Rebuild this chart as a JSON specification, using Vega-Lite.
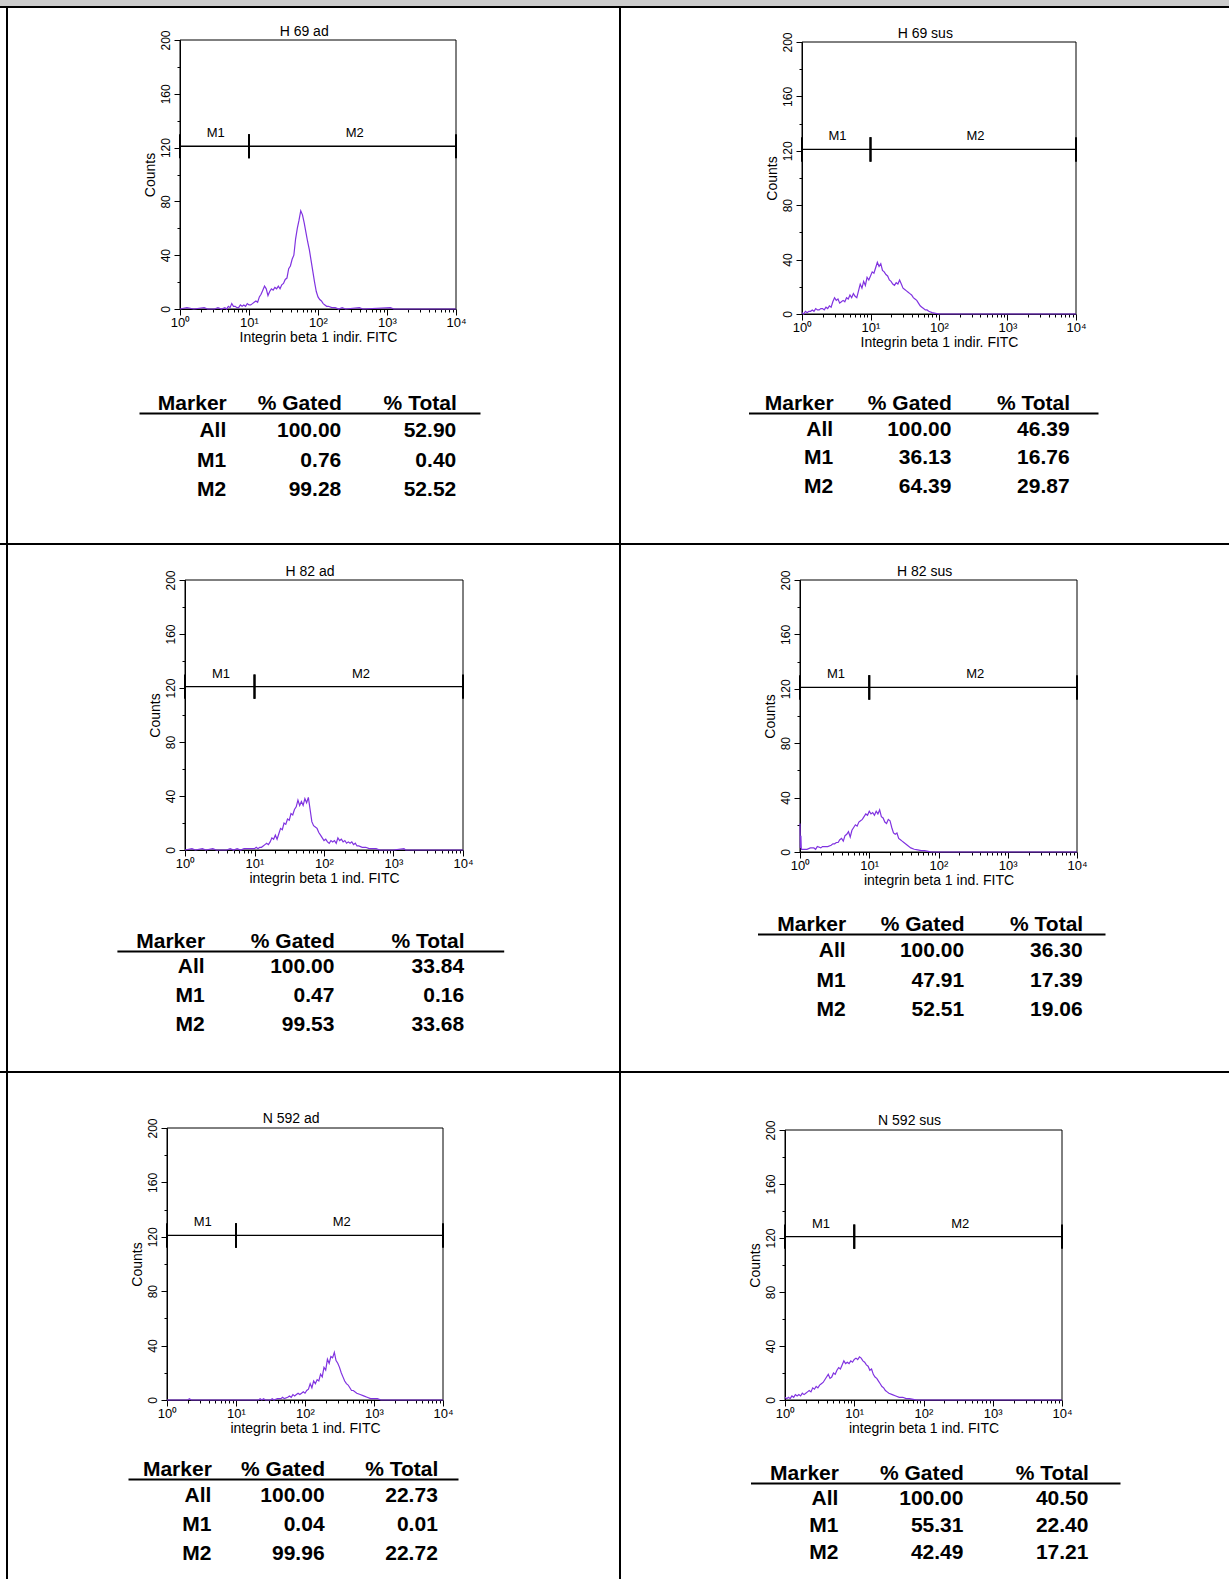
{
"$schema": "https://vega.github.io/schema/vega-lite/v6.json",
"padding": 0,
"background": "white",
"spacing": 0,
"bounds": "full",
"config": {
  "view": {"stroke": null},
  "font": "Liberation Sans",
  "concat": {"spacing": 0},
  "axis": {"grid": false, "domainColor": "black", "tickColor": "black", "labelColor": "black", "titleColor": "black", "labelFont": "Liberation Sans", "titleFont": "Liberation Sans", "titleFontWeight": "normal", "labelFlush": false, "labelOverlap": false, "domainWidth": 1, "tickWidth": 1},
  "text": {"font": "Liberation Sans", "color": "black"},
  "point": {"size": 0, "strokeWidth": 0, "opacity": 0}
},
"datasets": {
  "markers": [{"m":"M1","x1":1,"x2":10,"mid":3.3},{"m":"M2","x1":10,"x2":10000,"mid":340}],
  "h1": [{"x":1,"y":0},{"x":1.259,"y":1},{"x":1.585,"y":0},{"x":2.239,"y":1},{"x":2.512,"y":0},{"x":3.162,"y":0},{"x":3.548,"y":1},{"x":3.981,"y":0},{"x":4.467,"y":1},{"x":4.732,"y":0},{"x":5.012,"y":2},{"x":5.309,"y":1},{"x":5.623,"y":4},{"x":5.957,"y":2},{"x":6.31,"y":2},{"x":6.683,"y":1},{"x":7.079,"y":1},{"x":7.499,"y":3},{"x":7.943,"y":2},{"x":8.414,"y":3},{"x":8.913,"y":2},{"x":9.441,"y":4},{"x":10,"y":3},{"x":10.59,"y":3},{"x":11.22,"y":4},{"x":11.89,"y":5},{"x":12.59,"y":6},{"x":13.34,"y":5},{"x":14.13,"y":9},{"x":14.96,"y":11},{"x":15.85,"y":14},{"x":16.79,"y":17},{"x":17.78,"y":15},{"x":18.84,"y":10},{"x":19.95,"y":13},{"x":21.13,"y":15},{"x":22.39,"y":14},{"x":23.71,"y":16},{"x":25.12,"y":15},{"x":26.61,"y":17},{"x":28.18,"y":15},{"x":29.85,"y":18},{"x":31.62,"y":19},{"x":33.5,"y":22},{"x":35.48,"y":23},{"x":37.58,"y":30},{"x":39.81,"y":32},{"x":42.17,"y":37},{"x":44.67,"y":40},{"x":47.32,"y":52},{"x":50.12,"y":60},{"x":53.09,"y":66},{"x":56.23,"y":73},{"x":59.57,"y":70},{"x":63.1,"y":64},{"x":66.83,"y":57},{"x":70.79,"y":50},{"x":74.99,"y":44},{"x":79.43,"y":36},{"x":84.14,"y":28},{"x":89.13,"y":20},{"x":94.41,"y":13},{"x":100,"y":9},{"x":105.9,"y":7},{"x":112.2,"y":6},{"x":118.9,"y":4},{"x":125.9,"y":3},{"x":133.4,"y":2},{"x":141.3,"y":2},{"x":158.5,"y":1},{"x":177.8,"y":1},{"x":199.5,"y":0},{"x":223.9,"y":1},{"x":251.2,"y":0},{"x":398.1,"y":1},{"x":446.7,"y":0},{"x":1122,"y":1},{"x":1259,"y":0},{"x":10000,"y":0}],
  "h2": [{"x":1,"y":1},{"x":1.059,"y":0},{"x":1.122,"y":2},{"x":1.189,"y":1},{"x":1.259,"y":2},{"x":1.334,"y":2},{"x":1.413,"y":3},{"x":1.496,"y":2},{"x":1.585,"y":4},{"x":1.679,"y":3},{"x":1.778,"y":3},{"x":1.884,"y":4},{"x":1.995,"y":4},{"x":2.113,"y":3},{"x":2.239,"y":5},{"x":2.371,"y":4},{"x":2.512,"y":6},{"x":2.661,"y":5},{"x":2.818,"y":9},{"x":2.985,"y":12},{"x":3.162,"y":10},{"x":3.35,"y":11},{"x":3.548,"y":8},{"x":3.758,"y":9},{"x":3.981,"y":10},{"x":4.217,"y":9},{"x":4.467,"y":12},{"x":4.732,"y":11},{"x":5.012,"y":14},{"x":5.309,"y":12},{"x":5.623,"y":15},{"x":5.957,"y":13},{"x":6.31,"y":12},{"x":6.683,"y":17},{"x":7.079,"y":22},{"x":7.499,"y":19},{"x":7.943,"y":24},{"x":8.414,"y":21},{"x":8.913,"y":27},{"x":9.441,"y":25},{"x":10,"y":28},{"x":10.59,"y":31},{"x":11.22,"y":30},{"x":11.89,"y":34},{"x":12.59,"y":38},{"x":13.34,"y":35},{"x":14.13,"y":37},{"x":14.96,"y":32},{"x":15.85,"y":31},{"x":16.79,"y":29},{"x":17.78,"y":28},{"x":18.84,"y":25},{"x":19.95,"y":24},{"x":21.13,"y":22},{"x":22.39,"y":21},{"x":23.71,"y":23},{"x":25.12,"y":22},{"x":26.61,"y":25},{"x":28.18,"y":22},{"x":29.85,"y":19},{"x":31.62,"y":18},{"x":33.5,"y":17},{"x":35.48,"y":16},{"x":37.58,"y":15},{"x":39.81,"y":14},{"x":42.17,"y":12},{"x":44.67,"y":11},{"x":47.32,"y":10},{"x":50.12,"y":8},{"x":53.09,"y":6},{"x":56.23,"y":5},{"x":59.57,"y":4},{"x":63.1,"y":3},{"x":66.83,"y":3},{"x":70.79,"y":2},{"x":79.43,"y":1},{"x":89.13,"y":0.5},{"x":100,"y":0},{"x":10000,"y":0}],
  "h3": [{"x":1,"y":0},{"x":1.259,"y":1},{"x":1.413,"y":0},{"x":1.778,"y":1},{"x":1.995,"y":0},{"x":2.512,"y":1},{"x":2.818,"y":0},{"x":3.981,"y":0},{"x":4.467,"y":1},{"x":5.012,"y":0},{"x":5.623,"y":1},{"x":6.31,"y":0},{"x":7.079,"y":1},{"x":7.943,"y":1},{"x":8.913,"y":1},{"x":10,"y":1},{"x":10.59,"y":2},{"x":11.22,"y":1},{"x":11.89,"y":2},{"x":12.59,"y":2},{"x":13.34,"y":3},{"x":14.13,"y":4},{"x":14.96,"y":5},{"x":15.85,"y":4},{"x":16.79,"y":6},{"x":17.78,"y":9},{"x":18.84,"y":8},{"x":19.95,"y":11},{"x":21.13,"y":8},{"x":22.39,"y":12},{"x":23.71,"y":16},{"x":25.12,"y":15},{"x":26.61,"y":20},{"x":28.18,"y":19},{"x":29.85,"y":23},{"x":31.62,"y":22},{"x":33.5,"y":27},{"x":35.48,"y":26},{"x":37.58,"y":30},{"x":39.81,"y":32},{"x":42.17,"y":37},{"x":44.67,"y":33},{"x":47.32,"y":36},{"x":50.12,"y":33},{"x":53.09,"y":38},{"x":56.23,"y":35},{"x":59.57,"y":39},{"x":63.1,"y":30},{"x":66.83,"y":21},{"x":70.79,"y":18},{"x":74.99,"y":17},{"x":79.43,"y":16},{"x":84.14,"y":13},{"x":89.13,"y":11},{"x":94.41,"y":9},{"x":100,"y":7},{"x":105.9,"y":8},{"x":112.2,"y":6},{"x":118.9,"y":5},{"x":125.9,"y":7},{"x":133.4,"y":6},{"x":141.3,"y":7},{"x":150,"y":5},{"x":158.5,"y":9},{"x":168,"y":7},{"x":177.8,"y":8},{"x":188.4,"y":6},{"x":199.5,"y":7},{"x":211.3,"y":5},{"x":223.9,"y":6},{"x":237.1,"y":5},{"x":251.2,"y":6},{"x":266.1,"y":4},{"x":281.8,"y":5},{"x":298.5,"y":3},{"x":316.2,"y":3},{"x":354.8,"y":2},{"x":398.1,"y":2},{"x":446.7,"y":1},{"x":501.2,"y":1},{"x":562.3,"y":1},{"x":631,"y":0},{"x":1000,"y":0},{"x":1413,"y":1},{"x":1500,"y":0},{"x":10000,"y":0}],
  "h4": [{"x":1,"y":21},{"x":1.01,"y":3},{"x":1.03,"y":12},{"x":1.045,"y":2},{"x":1.122,"y":2},{"x":1.259,"y":2},{"x":1.413,"y":3},{"x":1.585,"y":3},{"x":1.679,"y":2},{"x":1.778,"y":4},{"x":1.995,"y":3},{"x":2.113,"y":4},{"x":2.239,"y":4},{"x":2.512,"y":4},{"x":2.818,"y":5},{"x":2.985,"y":6},{"x":3.162,"y":6},{"x":3.35,"y":7},{"x":3.548,"y":7},{"x":3.758,"y":9},{"x":3.981,"y":10},{"x":4.217,"y":8},{"x":4.467,"y":12},{"x":4.732,"y":13},{"x":5.012,"y":15},{"x":5.309,"y":11},{"x":5.623,"y":16},{"x":5.957,"y":18},{"x":6.31,"y":20},{"x":6.683,"y":19},{"x":7.079,"y":22},{"x":7.499,"y":23},{"x":7.943,"y":24},{"x":8.414,"y":26},{"x":8.913,"y":28},{"x":9.441,"y":27},{"x":10,"y":30},{"x":10.59,"y":28},{"x":11.22,"y":29},{"x":11.89,"y":27},{"x":12.59,"y":30},{"x":13.34,"y":28},{"x":14.13,"y":31},{"x":14.96,"y":26},{"x":15.85,"y":25},{"x":16.79,"y":22},{"x":17.78,"y":21},{"x":18.84,"y":24},{"x":19.95,"y":23},{"x":21.13,"y":18},{"x":22.39,"y":14},{"x":23.71,"y":13},{"x":25.12,"y":14},{"x":26.61,"y":10},{"x":28.18,"y":9},{"x":29.85,"y":8},{"x":31.62,"y":7},{"x":35.48,"y":5},{"x":39.81,"y":3},{"x":44.67,"y":2},{"x":50.12,"y":1.5},{"x":56.23,"y":1},{"x":63.1,"y":1},{"x":70.79,"y":0.5},{"x":79.43,"y":0},{"x":10000,"y":0}],
  "h5": [{"x":1,"y":0},{"x":1.995,"y":0},{"x":2.113,"y":1},{"x":2.239,"y":0},{"x":21.13,"y":0},{"x":22.39,"y":1},{"x":23.71,"y":0},{"x":25.12,"y":1},{"x":26.61,"y":0},{"x":31.62,"y":0},{"x":33.5,"y":1},{"x":35.48,"y":0},{"x":39.81,"y":1},{"x":44.67,"y":1},{"x":47.32,"y":2},{"x":50.12,"y":1},{"x":56.23,"y":2},{"x":59.57,"y":3},{"x":63.1,"y":2},{"x":66.83,"y":4},{"x":70.79,"y":3},{"x":74.99,"y":4},{"x":79.43,"y":5},{"x":84.14,"y":4},{"x":89.13,"y":5},{"x":94.41,"y":6},{"x":100,"y":5},{"x":105.9,"y":7},{"x":112.2,"y":8},{"x":118.9,"y":12},{"x":125.9,"y":9},{"x":133.4,"y":14},{"x":141.3,"y":12},{"x":150,"y":15},{"x":158.5,"y":14},{"x":168,"y":19},{"x":177.8,"y":17},{"x":188.4,"y":24},{"x":199.5,"y":22},{"x":211.3,"y":30},{"x":223.9,"y":27},{"x":237.1,"y":32},{"x":251.2,"y":31},{"x":266.1,"y":35},{"x":281.8,"y":29},{"x":298.5,"y":27},{"x":316.2,"y":24},{"x":335,"y":20},{"x":354.8,"y":17},{"x":376,"y":14},{"x":398.1,"y":12},{"x":421.7,"y":11},{"x":446.7,"y":9},{"x":473,"y":7},{"x":501.2,"y":7},{"x":562.3,"y":5},{"x":631,"y":4},{"x":707.9,"y":3},{"x":794.3,"y":2},{"x":891.3,"y":1},{"x":1000,"y":1},{"x":1122,"y":1},{"x":1259,"y":0},{"x":10000,"y":0}],
  "h6": [{"x":1,"y":2},{"x":1.059,"y":1},{"x":1.122,"y":2},{"x":1.189,"y":1},{"x":1.259,"y":3},{"x":1.334,"y":2},{"x":1.413,"y":4},{"x":1.496,"y":3},{"x":1.585,"y":4},{"x":1.679,"y":3},{"x":1.778,"y":5},{"x":1.884,"y":4},{"x":1.995,"y":5},{"x":2.113,"y":6},{"x":2.239,"y":7},{"x":2.371,"y":6},{"x":2.512,"y":9},{"x":2.661,"y":8},{"x":2.818,"y":10},{"x":2.985,"y":9},{"x":3.162,"y":11},{"x":3.35,"y":12},{"x":3.548,"y":13},{"x":3.758,"y":15},{"x":3.981,"y":17},{"x":4.217,"y":19},{"x":4.467,"y":16},{"x":4.732,"y":17},{"x":5.012,"y":20},{"x":5.309,"y":19},{"x":5.623,"y":22},{"x":5.957,"y":24},{"x":6.31,"y":23},{"x":6.683,"y":26},{"x":7.079,"y":29},{"x":7.499,"y":27},{"x":7.943,"y":28},{"x":8.414,"y":27},{"x":8.913,"y":29},{"x":9.441,"y":28},{"x":10,"y":30},{"x":10.59,"y":31},{"x":11.22,"y":30},{"x":11.89,"y":32},{"x":12.59,"y":31},{"x":13.34,"y":29},{"x":14.13,"y":28},{"x":14.96,"y":26},{"x":15.85,"y":25},{"x":16.79,"y":22},{"x":17.78,"y":23},{"x":18.84,"y":19},{"x":19.95,"y":17},{"x":21.13,"y":16},{"x":22.39,"y":14},{"x":23.71,"y":12},{"x":25.12,"y":10},{"x":26.61,"y":9},{"x":28.18,"y":7},{"x":29.85,"y":6},{"x":31.62,"y":5},{"x":35.48,"y":4},{"x":39.81,"y":3},{"x":44.67,"y":2},{"x":50.12,"y":2},{"x":56.23,"y":1},{"x":63.1,"y":1},{"x":70.79,"y":0.5},{"x":79.43,"y":0},{"x":10000,"y":0}],
  "t1": [{"row":"All","col":"Marker","v":"All"},{"row":"All","col":"% Gated","v":"100.00"},{"row":"All","col":"% Total","v":"52.90"},{"row":"M1","col":"Marker","v":"M1"},{"row":"M1","col":"% Gated","v":"0.76"},{"row":"M1","col":"% Total","v":"0.40"},{"row":"M2","col":"Marker","v":"M2"},{"row":"M2","col":"% Gated","v":"99.28"},{"row":"M2","col":"% Total","v":"52.52"}],
  "t2": [{"row":"All","col":"Marker","v":"All"},{"row":"All","col":"% Gated","v":"100.00"},{"row":"All","col":"% Total","v":"46.39"},{"row":"M1","col":"Marker","v":"M1"},{"row":"M1","col":"% Gated","v":"36.13"},{"row":"M1","col":"% Total","v":"16.76"},{"row":"M2","col":"Marker","v":"M2"},{"row":"M2","col":"% Gated","v":"64.39"},{"row":"M2","col":"% Total","v":"29.87"}],
  "t3": [{"row":"All","col":"Marker","v":"All"},{"row":"All","col":"% Gated","v":"100.00"},{"row":"All","col":"% Total","v":"33.84"},{"row":"M1","col":"Marker","v":"M1"},{"row":"M1","col":"% Gated","v":"0.47"},{"row":"M1","col":"% Total","v":"0.16"},{"row":"M2","col":"Marker","v":"M2"},{"row":"M2","col":"% Gated","v":"99.53"},{"row":"M2","col":"% Total","v":"33.68"}],
  "t4": [{"row":"All","col":"Marker","v":"All"},{"row":"All","col":"% Gated","v":"100.00"},{"row":"All","col":"% Total","v":"36.30"},{"row":"M1","col":"Marker","v":"M1"},{"row":"M1","col":"% Gated","v":"47.91"},{"row":"M1","col":"% Total","v":"17.39"},{"row":"M2","col":"Marker","v":"M2"},{"row":"M2","col":"% Gated","v":"52.51"},{"row":"M2","col":"% Total","v":"19.06"}],
  "t5": [{"row":"All","col":"Marker","v":"All"},{"row":"All","col":"% Gated","v":"100.00"},{"row":"All","col":"% Total","v":"22.73"},{"row":"M1","col":"Marker","v":"M1"},{"row":"M1","col":"% Gated","v":"0.04"},{"row":"M1","col":"% Total","v":"0.01"},{"row":"M2","col":"Marker","v":"M2"},{"row":"M2","col":"% Gated","v":"99.96"},{"row":"M2","col":"% Total","v":"22.72"}],
  "t6": [{"row":"All","col":"Marker","v":"All"},{"row":"All","col":"% Gated","v":"100.00"},{"row":"All","col":"% Total","v":"40.50"},{"row":"M1","col":"Marker","v":"M1"},{"row":"M1","col":"% Gated","v":"55.31"},{"row":"M1","col":"% Total","v":"22.40"},{"row":"M2","col":"Marker","v":"M2"},{"row":"M2","col":"% Gated","v":"42.49"},{"row":"M2","col":"% Total","v":"17.21"}]
},
"vconcat": [
  {"width":1229,"height":6,"data":{"values":[{}]},"mark":{"type":"point","opacity":0,"size":0},"view":{"fill":"#cccccc","stroke":null}},
  {"width":1229,"height":2,"data":{"values":[{}]},"mark":{"type":"point","opacity":0,"size":0},"view":{"fill":"black","stroke":null}},
  {"spacing":0,"bounds":"flush","hconcat":[
    {"width":6,"height":535,"data":{"values":[{}]},"mark":{"type":"point","opacity":0,"size":0},"view":{"fill":"white","stroke":null}},
    {"width":2,"height":535,"data":{"values":[{}]},"mark":{"type":"point","opacity":0,"size":0},"view":{"fill":"black","stroke":null}},
    {"width":611,"height":535,"resolve":{"scale":{"x":"independent","y":"independent"},"axis":{"x":"independent","y":"independent"}},
     "layer":[
      {"layer":[
        {"data":{"values":[{}]},"mark":{"type":"rect","filled":false,"color":"black","strokeWidth":1},"encoding":{"x":{"datum":1,"type":"quantitative"},"x2":{"datum":10000},"y":{"datum":0,"type":"quantitative"},"y2":{"datum":200}}},
        {"data":{"name":"h1"},"mark":{"type":"line","color":"#8033e0","strokeWidth":1.2},
         "encoding":{
          "x":{"field":"x","type":"quantitative","scale":{"type":"log","domain":[1,10000],"range":[172,448],"nice":false},
               "axis":{"orient":"bottom","offset":-234,"values":[1,2,3,4,5,6,7,8,9,10,20,30,40,50,60,70,80,90,100,200,300,400,500,600,700,800,900,1000,2000,3000,4000,5000,6000,7000,8000,9000,10000],"labelExpr":"datum.value===1?'10⁰':datum.value===10?'10¹':datum.value===100?'10²':datum.value===1000?'10³':datum.value===10000?'10⁴':''","tickSize":{"condition":{"test":"datum.value===1||datum.value===10||datum.value===100||datum.value===1000||datum.value===10000","value":6},"value":3},"labelFontSize":13,"labelPadding":1,"title":"Integrin beta 1 indir. FITC","titleFontSize":14,"titlePadding":1}},
          "y":{"field":"y","type":"quantitative","scale":{"domain":[0,200],"range":[301,32],"nice":false},
               "axis":{"orient":"left","offset":-172,"values":[0,5,10,15,20,25,30,35,40,45,50,55,60,65,70,75,80,85,90,95,100,105,110,115,120,125,130,135,140,145,150,155,160,165,170,175,180,185,190,195,200],"labelExpr":"datum.value % 40 === 0 ? datum.label : ''","tickSize":{"condition":{"test":"datum.value % 40 === 0","value":6},"value":3},"labelAngle":270,"labelAlign":"center","labelBaseline":"bottom","labelFontSize":12,"labelPadding":2,"title":"Counts","titleFontSize":14,"titlePadding":2}}}},
        {"data":{"name":"markers"},"mark":{"type":"rule","color":"black","strokeWidth":1.3},"encoding":{"x":{"field":"x1","type":"quantitative"},"x2":{"field":"x2"},"y":{"datum":121,"type":"quantitative"}}},
        {"data":{"name":"markers"},"mark":{"type":"rule","color":"black","strokeWidth":2},"encoding":{"x":{"field":"x1","type":"quantitative"},"y":{"datum":112,"type":"quantitative"},"y2":{"datum":130}}},
        {"data":{"name":"markers"},"mark":{"type":"rule","color":"black","strokeWidth":2},"encoding":{"x":{"field":"x2","type":"quantitative"},"y":{"datum":112,"type":"quantitative"},"y2":{"datum":130}}},
        {"data":{"name":"markers"},"mark":{"type":"text","fontSize":13,"baseline":"alphabetic","dy":-9},"encoding":{"x":{"field":"mid","type":"quantitative"},"y":{"datum":121,"type":"quantitative"},"text":{"field":"m"}}},
        {"data":{"values":[{"t":"H 69 ad"}]},"mark":{"type":"text","fontSize":14,"baseline":"alphabetic","dy":-4},"encoding":{"x":{"datum":63,"type":"quantitative"},"y":{"datum":200,"type":"quantitative"},"text":{"field":"t"}}}
      ]},
      {"data":{"name":"t1"},"mark":{"type":"text","align":"right","baseline":"middle","fontSize":21,"fontWeight":"bold"},
       "encoding":{
        "x":{"field":"col","type":"nominal","scale":{"type":"point","domain":["Marker","% Gated","% Total"],"range":[131,472],"padding":0.4826,"align":0.786,"round":false},
             "axis":{"orient":"top","offset":-405,"title":null,"ticks":false,"tickSize":0,"labelAngle":0,"labelAlign":"right","labelBaseline":"alphabetic","labelPadding":3.5,"labelFontSize":21,"labelFontWeight":"bold","domainWidth":2}},
        "y":{"field":"row","type":"nominal","scale":{"type":"point","domain":["All","M1","M2"],"range":[423,482],"padding":0,"round":false},"axis":null},
        "text":{"field":"v"}}}
     ]},
    {"width":2,"height":535,"data":{"values":[{}]},"mark":{"type":"point","opacity":0,"size":0},"view":{"fill":"black","stroke":null}},
    {"width":608,"height":535,"resolve":{"scale":{"x":"independent","y":"independent"},"axis":{"x":"independent","y":"independent"}},
     "layer":[
      {"layer":[
        {"data":{"values":[{}]},"mark":{"type":"rect","filled":false,"color":"black","strokeWidth":1},"encoding":{"x":{"datum":1,"type":"quantitative"},"x2":{"datum":10000},"y":{"datum":0,"type":"quantitative"},"y2":{"datum":200}}},
        {"data":{"name":"h2"},"mark":{"type":"line","color":"#8033e0","strokeWidth":1.2},
         "encoding":{
          "x":{"field":"x","type":"quantitative","scale":{"type":"log","domain":[1,10000],"range":[181,455],"nice":false},
               "axis":{"orient":"bottom","offset":-229,"values":[1,2,3,4,5,6,7,8,9,10,20,30,40,50,60,70,80,90,100,200,300,400,500,600,700,800,900,1000,2000,3000,4000,5000,6000,7000,8000,9000,10000],"labelExpr":"datum.value===1?'10⁰':datum.value===10?'10¹':datum.value===100?'10²':datum.value===1000?'10³':datum.value===10000?'10⁴':''","tickSize":{"condition":{"test":"datum.value===1||datum.value===10||datum.value===100||datum.value===1000||datum.value===10000","value":6},"value":3},"labelFontSize":13,"labelPadding":1,"title":"Integrin beta 1 indir. FITC","titleFontSize":14,"titlePadding":1}},
          "y":{"field":"y","type":"quantitative","scale":{"domain":[0,200],"range":[306,34],"nice":false},
               "axis":{"orient":"left","offset":-181,"values":[0,5,10,15,20,25,30,35,40,45,50,55,60,65,70,75,80,85,90,95,100,105,110,115,120,125,130,135,140,145,150,155,160,165,170,175,180,185,190,195,200],"labelExpr":"datum.value % 40 === 0 ? datum.label : ''","tickSize":{"condition":{"test":"datum.value % 40 === 0","value":6},"value":3},"labelAngle":270,"labelAlign":"center","labelBaseline":"bottom","labelFontSize":12,"labelPadding":2,"title":"Counts","titleFontSize":14,"titlePadding":2}}}},
        {"data":{"name":"markers"},"mark":{"type":"rule","color":"black","strokeWidth":1.3},"encoding":{"x":{"field":"x1","type":"quantitative"},"x2":{"field":"x2"},"y":{"datum":121,"type":"quantitative"}}},
        {"data":{"name":"markers"},"mark":{"type":"rule","color":"black","strokeWidth":2},"encoding":{"x":{"field":"x1","type":"quantitative"},"y":{"datum":112,"type":"quantitative"},"y2":{"datum":130}}},
        {"data":{"name":"markers"},"mark":{"type":"rule","color":"black","strokeWidth":2},"encoding":{"x":{"field":"x2","type":"quantitative"},"y":{"datum":112,"type":"quantitative"},"y2":{"datum":130}}},
        {"data":{"name":"markers"},"mark":{"type":"text","fontSize":13,"baseline":"alphabetic","dy":-9},"encoding":{"x":{"field":"mid","type":"quantitative"},"y":{"datum":121,"type":"quantitative"},"text":{"field":"m"}}},
        {"data":{"values":[{"t":"H 69 sus"}]},"mark":{"type":"text","fontSize":14,"baseline":"alphabetic","dy":-4},"encoding":{"x":{"datum":63,"type":"quantitative"},"y":{"datum":200,"type":"quantitative"},"text":{"field":"t"}}}
      ]},
      {"data":{"name":"t2"},"mark":{"type":"text","align":"right","baseline":"middle","fontSize":21,"fontWeight":"bold"},
       "encoding":{
        "x":{"field":"col","type":"nominal","scale":{"type":"point","domain":["Marker","% Gated","% Total"],"range":[127.5,477],"padding":0.4778,"align":0.749,"round":false},
             "axis":{"orient":"top","offset":-405,"title":null,"ticks":false,"tickSize":0,"labelAngle":0,"labelAlign":"right","labelBaseline":"alphabetic","labelPadding":3.5,"labelFontSize":21,"labelFontWeight":"bold","domainWidth":2}},
        "y":{"field":"row","type":"nominal","scale":{"type":"point","domain":["All","M1","M2"],"range":[422,478.5],"padding":0,"round":false},"axis":null},
        "text":{"field":"v"}}}
     ]}
  ]},
  {"width":1229,"height":2,"data":{"values":[{}]},"mark":{"type":"point","opacity":0,"size":0},"view":{"fill":"black","stroke":null}},
  {"spacing":0,"bounds":"flush","hconcat":[
    {"width":6,"height":526,"data":{"values":[{}]},"mark":{"type":"point","opacity":0,"size":0},"view":{"fill":"white","stroke":null}},
    {"width":2,"height":526,"data":{"values":[{}]},"mark":{"type":"point","opacity":0,"size":0},"view":{"fill":"black","stroke":null}},
    {"width":611,"height":526,"resolve":{"scale":{"x":"independent","y":"independent"},"axis":{"x":"independent","y":"independent"}},
     "layer":[
      {"layer":[
        {"data":{"values":[{}]},"mark":{"type":"rect","filled":false,"color":"black","strokeWidth":1},"encoding":{"x":{"datum":1,"type":"quantitative"},"x2":{"datum":10000},"y":{"datum":0,"type":"quantitative"},"y2":{"datum":200}}},
        {"data":{"name":"h3"},"mark":{"type":"line","color":"#8033e0","strokeWidth":1.2},
         "encoding":{
          "x":{"field":"x","type":"quantitative","scale":{"type":"log","domain":[1,10000],"range":[177,455],"nice":false},
               "axis":{"orient":"bottom","offset":-221,"values":[1,2,3,4,5,6,7,8,9,10,20,30,40,50,60,70,80,90,100,200,300,400,500,600,700,800,900,1000,2000,3000,4000,5000,6000,7000,8000,9000,10000],"labelExpr":"datum.value===1?'10⁰':datum.value===10?'10¹':datum.value===100?'10²':datum.value===1000?'10³':datum.value===10000?'10⁴':''","tickSize":{"condition":{"test":"datum.value===1||datum.value===10||datum.value===100||datum.value===1000||datum.value===10000","value":6},"value":3},"labelFontSize":13,"labelPadding":1,"title":"integrin beta 1 ind. FITC","titleFontSize":14,"titlePadding":1}},
          "y":{"field":"y","type":"quantitative","scale":{"domain":[0,200],"range":[305,35],"nice":false},
               "axis":{"orient":"left","offset":-177,"values":[0,5,10,15,20,25,30,35,40,45,50,55,60,65,70,75,80,85,90,95,100,105,110,115,120,125,130,135,140,145,150,155,160,165,170,175,180,185,190,195,200],"labelExpr":"datum.value % 40 === 0 ? datum.label : ''","tickSize":{"condition":{"test":"datum.value % 40 === 0","value":6},"value":3},"labelAngle":270,"labelAlign":"center","labelBaseline":"bottom","labelFontSize":12,"labelPadding":2,"title":"Counts","titleFontSize":14,"titlePadding":2}}}},
        {"data":{"name":"markers"},"mark":{"type":"rule","color":"black","strokeWidth":1.3},"encoding":{"x":{"field":"x1","type":"quantitative"},"x2":{"field":"x2"},"y":{"datum":121,"type":"quantitative"}}},
        {"data":{"name":"markers"},"mark":{"type":"rule","color":"black","strokeWidth":2},"encoding":{"x":{"field":"x1","type":"quantitative"},"y":{"datum":112,"type":"quantitative"},"y2":{"datum":130}}},
        {"data":{"name":"markers"},"mark":{"type":"rule","color":"black","strokeWidth":2},"encoding":{"x":{"field":"x2","type":"quantitative"},"y":{"datum":112,"type":"quantitative"},"y2":{"datum":130}}},
        {"data":{"name":"markers"},"mark":{"type":"text","fontSize":13,"baseline":"alphabetic","dy":-9},"encoding":{"x":{"field":"mid","type":"quantitative"},"y":{"datum":121,"type":"quantitative"},"text":{"field":"m"}}},
        {"data":{"values":[{"t":"H 82 ad"}]},"mark":{"type":"text","fontSize":14,"baseline":"alphabetic","dy":-4},"encoding":{"x":{"datum":63,"type":"quantitative"},"y":{"datum":200,"type":"quantitative"},"text":{"field":"t"}}}
      ]},
      {"data":{"name":"t3"},"mark":{"type":"text","align":"right","baseline":"middle","fontSize":21,"fontWeight":"bold"},
       "encoding":{
        "x":{"field":"col","type":"nominal","scale":{"type":"point","domain":["Marker","% Gated","% Total"],"range":[108.9,495.7],"padding":0.4906,"align":0.689,"round":false},
             "axis":{"orient":"top","offset":-406,"title":null,"ticks":false,"tickSize":0,"labelAngle":0,"labelAlign":"right","labelBaseline":"alphabetic","labelPadding":3.5,"labelFontSize":21,"labelFontWeight":"bold","domainWidth":2}},
        "y":{"field":"row","type":"nominal","scale":{"type":"point","domain":["All","M1","M2"],"range":[422,479.5],"padding":0,"round":false},"axis":null},
        "text":{"field":"v"}}}
     ]},
    {"width":2,"height":526,"data":{"values":[{}]},"mark":{"type":"point","opacity":0,"size":0},"view":{"fill":"black","stroke":null}},
    {"width":608,"height":526,"resolve":{"scale":{"x":"independent","y":"independent"},"axis":{"x":"independent","y":"independent"}},
     "layer":[
      {"layer":[
        {"data":{"values":[{}]},"mark":{"type":"rect","filled":false,"color":"black","strokeWidth":1},"encoding":{"x":{"datum":1,"type":"quantitative"},"x2":{"datum":10000},"y":{"datum":0,"type":"quantitative"},"y2":{"datum":200}}},
        {"data":{"name":"h4"},"mark":{"type":"line","color":"#8033e0","strokeWidth":1.2},
         "encoding":{
          "x":{"field":"x","type":"quantitative","scale":{"type":"log","domain":[1,10000],"range":[179,456],"nice":false},
               "axis":{"orient":"bottom","offset":-219,"values":[1,2,3,4,5,6,7,8,9,10,20,30,40,50,60,70,80,90,100,200,300,400,500,600,700,800,900,1000,2000,3000,4000,5000,6000,7000,8000,9000,10000],"labelExpr":"datum.value===1?'10⁰':datum.value===10?'10¹':datum.value===100?'10²':datum.value===1000?'10³':datum.value===10000?'10⁴':''","tickSize":{"condition":{"test":"datum.value===1||datum.value===10||datum.value===100||datum.value===1000||datum.value===10000","value":6},"value":3},"labelFontSize":13,"labelPadding":1,"title":"integrin beta 1 ind. FITC","titleFontSize":14,"titlePadding":1}},
          "y":{"field":"y","type":"quantitative","scale":{"domain":[0,200],"range":[307,35],"nice":false},
               "axis":{"orient":"left","offset":-179,"values":[0,5,10,15,20,25,30,35,40,45,50,55,60,65,70,75,80,85,90,95,100,105,110,115,120,125,130,135,140,145,150,155,160,165,170,175,180,185,190,195,200],"labelExpr":"datum.value % 40 === 0 ? datum.label : ''","tickSize":{"condition":{"test":"datum.value % 40 === 0","value":6},"value":3},"labelAngle":270,"labelAlign":"center","labelBaseline":"bottom","labelFontSize":12,"labelPadding":2,"title":"Counts","titleFontSize":14,"titlePadding":2}}}},
        {"data":{"name":"markers"},"mark":{"type":"rule","color":"black","strokeWidth":1.3},"encoding":{"x":{"field":"x1","type":"quantitative"},"x2":{"field":"x2"},"y":{"datum":121,"type":"quantitative"}}},
        {"data":{"name":"markers"},"mark":{"type":"rule","color":"black","strokeWidth":2},"encoding":{"x":{"field":"x1","type":"quantitative"},"y":{"datum":112,"type":"quantitative"},"y2":{"datum":130}}},
        {"data":{"name":"markers"},"mark":{"type":"rule","color":"black","strokeWidth":2},"encoding":{"x":{"field":"x2","type":"quantitative"},"y":{"datum":112,"type":"quantitative"},"y2":{"datum":130}}},
        {"data":{"name":"markers"},"mark":{"type":"text","fontSize":13,"baseline":"alphabetic","dy":-9},"encoding":{"x":{"field":"mid","type":"quantitative"},"y":{"datum":121,"type":"quantitative"},"text":{"field":"m"}}},
        {"data":{"values":[{"t":"H 82 sus"}]},"mark":{"type":"text","fontSize":14,"baseline":"alphabetic","dy":-4},"encoding":{"x":{"datum":63,"type":"quantitative"},"y":{"datum":200,"type":"quantitative"},"text":{"field":"t"}}}
      ]},
      {"data":{"name":"t4"},"mark":{"type":"text","align":"right","baseline":"middle","fontSize":21,"fontWeight":"bold"},
       "encoding":{
        "x":{"field":"col","type":"nominal","scale":{"type":"point","domain":["Marker","% Gated","% Total"],"range":[136.5,484],"padding":0.4662,"align":0.798,"round":false},
             "axis":{"orient":"top","offset":-389,"title":null,"ticks":false,"tickSize":0,"labelAngle":0,"labelAlign":"right","labelBaseline":"alphabetic","labelPadding":3.5,"labelFontSize":21,"labelFontWeight":"bold","domainWidth":2}},
        "y":{"field":"row","type":"nominal","scale":{"type":"point","domain":["All","M1","M2"],"range":[406,465],"padding":0,"round":false},"axis":null},
        "text":{"field":"v"}}}
     ]}
  ]},
  {"width":1229,"height":2,"data":{"values":[{}]},"mark":{"type":"point","opacity":0,"size":0},"view":{"fill":"black","stroke":null}},
  {"spacing":0,"bounds":"flush","hconcat":[
    {"width":6,"height":506,"data":{"values":[{}]},"mark":{"type":"point","opacity":0,"size":0},"view":{"fill":"white","stroke":null}},
    {"width":2,"height":506,"data":{"values":[{}]},"mark":{"type":"point","opacity":0,"size":0},"view":{"fill":"black","stroke":null}},
    {"width":611,"height":506,"resolve":{"scale":{"x":"independent","y":"independent"},"axis":{"x":"independent","y":"independent"}},
     "layer":[
      {"layer":[
        {"data":{"values":[{}]},"mark":{"type":"rect","filled":false,"color":"black","strokeWidth":1},"encoding":{"x":{"datum":1,"type":"quantitative"},"x2":{"datum":10000},"y":{"datum":0,"type":"quantitative"},"y2":{"datum":200}}},
        {"data":{"name":"h5"},"mark":{"type":"line","color":"#8033e0","strokeWidth":1.2},
         "encoding":{
          "x":{"field":"x","type":"quantitative","scale":{"type":"log","domain":[1,10000],"range":[159,435],"nice":false},
               "axis":{"orient":"bottom","offset":-179,"values":[1,2,3,4,5,6,7,8,9,10,20,30,40,50,60,70,80,90,100,200,300,400,500,600,700,800,900,1000,2000,3000,4000,5000,6000,7000,8000,9000,10000],"labelExpr":"datum.value===1?'10⁰':datum.value===10?'10¹':datum.value===100?'10²':datum.value===1000?'10³':datum.value===10000?'10⁴':''","tickSize":{"condition":{"test":"datum.value===1||datum.value===10||datum.value===100||datum.value===1000||datum.value===10000","value":6},"value":3},"labelFontSize":13,"labelPadding":1,"title":"integrin beta 1 ind. FITC","titleFontSize":14,"titlePadding":1}},
          "y":{"field":"y","type":"quantitative","scale":{"domain":[0,200],"range":[327,55],"nice":false},
               "axis":{"orient":"left","offset":-159,"values":[0,5,10,15,20,25,30,35,40,45,50,55,60,65,70,75,80,85,90,95,100,105,110,115,120,125,130,135,140,145,150,155,160,165,170,175,180,185,190,195,200],"labelExpr":"datum.value % 40 === 0 ? datum.label : ''","tickSize":{"condition":{"test":"datum.value % 40 === 0","value":6},"value":3},"labelAngle":270,"labelAlign":"center","labelBaseline":"bottom","labelFontSize":12,"labelPadding":2,"title":"Counts","titleFontSize":14,"titlePadding":2}}}},
        {"data":{"name":"markers"},"mark":{"type":"rule","color":"black","strokeWidth":1.3},"encoding":{"x":{"field":"x1","type":"quantitative"},"x2":{"field":"x2"},"y":{"datum":121,"type":"quantitative"}}},
        {"data":{"name":"markers"},"mark":{"type":"rule","color":"black","strokeWidth":2},"encoding":{"x":{"field":"x1","type":"quantitative"},"y":{"datum":112,"type":"quantitative"},"y2":{"datum":130}}},
        {"data":{"name":"markers"},"mark":{"type":"rule","color":"black","strokeWidth":2},"encoding":{"x":{"field":"x2","type":"quantitative"},"y":{"datum":112,"type":"quantitative"},"y2":{"datum":130}}},
        {"data":{"name":"markers"},"mark":{"type":"text","fontSize":13,"baseline":"alphabetic","dy":-9},"encoding":{"x":{"field":"mid","type":"quantitative"},"y":{"datum":121,"type":"quantitative"},"text":{"field":"m"}}},
        {"data":{"values":[{"t":"N 592 ad"}]},"mark":{"type":"text","fontSize":14,"baseline":"alphabetic","dy":-5},"encoding":{"x":{"datum":63,"type":"quantitative"},"y":{"datum":200,"type":"quantitative"},"text":{"field":"t"}}}
      ]},
      {"data":{"name":"t5"},"mark":{"type":"text","align":"right","baseline":"middle","fontSize":21,"fontWeight":"bold"},
       "encoding":{
        "x":{"field":"col","type":"nominal","scale":{"type":"point","domain":["Marker","% Gated","% Total"],"range":[120,450],"padding":0.457,"align":0.805,"round":false},
             "axis":{"orient":"top","offset":-406,"title":null,"ticks":false,"tickSize":0,"labelAngle":0,"labelAlign":"right","labelBaseline":"alphabetic","labelPadding":3.5,"labelFontSize":21,"labelFontWeight":"bold","domainWidth":2}},
        "y":{"field":"row","type":"nominal","scale":{"type":"point","domain":["All","M1","M2"],"range":[423,481],"padding":0,"round":false},"axis":null},
        "text":{"field":"v"}}}
     ]},
    {"width":2,"height":506,"data":{"values":[{}]},"mark":{"type":"point","opacity":0,"size":0},"view":{"fill":"black","stroke":null}},
    {"width":608,"height":506,"resolve":{"scale":{"x":"independent","y":"independent"},"axis":{"x":"independent","y":"independent"}},
     "layer":[
      {"layer":[
        {"data":{"values":[{}]},"mark":{"type":"rect","filled":false,"color":"black","strokeWidth":1},"encoding":{"x":{"datum":1,"type":"quantitative"},"x2":{"datum":10000},"y":{"datum":0,"type":"quantitative"},"y2":{"datum":200}}},
        {"data":{"name":"h6"},"mark":{"type":"line","color":"#8033e0","strokeWidth":1.2},
         "encoding":{
          "x":{"field":"x","type":"quantitative","scale":{"type":"log","domain":[1,10000],"range":[164,441],"nice":false},
               "axis":{"orient":"bottom","offset":-179,"values":[1,2,3,4,5,6,7,8,9,10,20,30,40,50,60,70,80,90,100,200,300,400,500,600,700,800,900,1000,2000,3000,4000,5000,6000,7000,8000,9000,10000],"labelExpr":"datum.value===1?'10⁰':datum.value===10?'10¹':datum.value===100?'10²':datum.value===1000?'10³':datum.value===10000?'10⁴':''","tickSize":{"condition":{"test":"datum.value===1||datum.value===10||datum.value===100||datum.value===1000||datum.value===10000","value":6},"value":3},"labelFontSize":13,"labelPadding":1,"title":"integrin beta 1 ind. FITC","titleFontSize":14,"titlePadding":1}},
          "y":{"field":"y","type":"quantitative","scale":{"domain":[0,200],"range":[327,57],"nice":false},
               "axis":{"orient":"left","offset":-164,"values":[0,5,10,15,20,25,30,35,40,45,50,55,60,65,70,75,80,85,90,95,100,105,110,115,120,125,130,135,140,145,150,155,160,165,170,175,180,185,190,195,200],"labelExpr":"datum.value % 40 === 0 ? datum.label : ''","tickSize":{"condition":{"test":"datum.value % 40 === 0","value":6},"value":3},"labelAngle":270,"labelAlign":"center","labelBaseline":"bottom","labelFontSize":12,"labelPadding":2,"title":"Counts","titleFontSize":14,"titlePadding":2}}}},
        {"data":{"name":"markers"},"mark":{"type":"rule","color":"black","strokeWidth":1.3},"encoding":{"x":{"field":"x1","type":"quantitative"},"x2":{"field":"x2"},"y":{"datum":121,"type":"quantitative"}}},
        {"data":{"name":"markers"},"mark":{"type":"rule","color":"black","strokeWidth":2},"encoding":{"x":{"field":"x1","type":"quantitative"},"y":{"datum":112,"type":"quantitative"},"y2":{"datum":130}}},
        {"data":{"name":"markers"},"mark":{"type":"rule","color":"black","strokeWidth":2},"encoding":{"x":{"field":"x2","type":"quantitative"},"y":{"datum":112,"type":"quantitative"},"y2":{"datum":130}}},
        {"data":{"name":"markers"},"mark":{"type":"text","fontSize":13,"baseline":"alphabetic","dy":-9},"encoding":{"x":{"field":"mid","type":"quantitative"},"y":{"datum":121,"type":"quantitative"},"text":{"field":"m"}}},
        {"data":{"values":[{"t":"N 592 sus"}]},"mark":{"type":"text","fontSize":14,"baseline":"alphabetic","dy":-5},"encoding":{"x":{"datum":63,"type":"quantitative"},"y":{"datum":200,"type":"quantitative"},"text":{"field":"t"}}}
      ]},
      {"data":{"name":"t6"},"mark":{"type":"text","align":"right","baseline":"middle","fontSize":21,"fontWeight":"bold"},
       "encoding":{
        "x":{"field":"col","type":"nominal","scale":{"type":"point","domain":["Marker","% Gated","% Total"],"range":[129.5,499],"padding":0.478,"align":0.736,"round":false},
             "axis":{"orient":"top","offset":-410,"title":null,"ticks":false,"tickSize":0,"labelAngle":0,"labelAlign":"right","labelBaseline":"alphabetic","labelPadding":3.5,"labelFontSize":21,"labelFontWeight":"bold","domainWidth":2}},
        "y":{"field":"row","type":"nominal","scale":{"type":"point","domain":["All","M1","M2"],"range":[426,480],"padding":0,"round":false},"axis":null},
        "text":{"field":"v"}}}
     ]}
  ]}
]
}
